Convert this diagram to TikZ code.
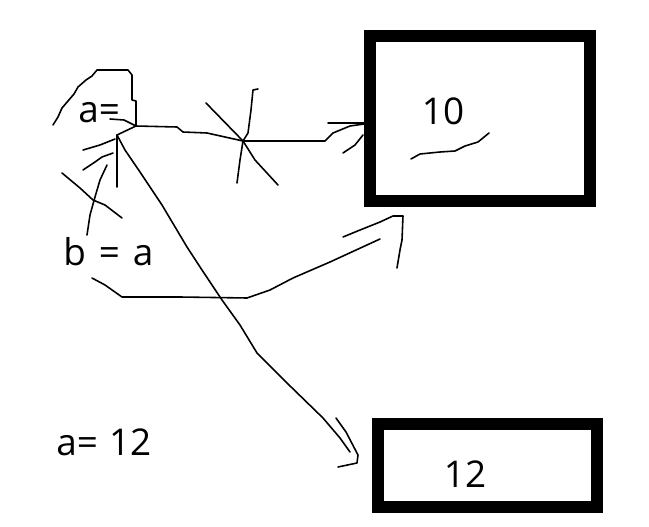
\documentclass[tikz,border=0pt]{standalone}
\usepackage{fontspec}
\setmainfont{Open Sans}
\begin{document}
\begin{tikzpicture}[x=0.02cm,y=-0.02cm,
  txt/.style={inner sep=0pt,anchor=base west,font=\fontsize{21}{23}\selectfont},
  ctxt/.style={inner sep=0pt,anchor=base,font=\fontsize{21}{23}\selectfont},
  memboxA/.style={draw,line width=6.8pt,minimum width=4.4cm,minimum height=3.3cm,inner sep=0pt},
  memboxB/.style={draw,line width=6.8pt,minimum width=4.38cm,minimum height=1.66cm,inner sep=0pt},
  pen/.style={line width=0.9pt,line join=round,line cap=round}]
\useasboundingbox (0,0) rectangle (649,527);
% boxes
\node[memboxA] (boxA) at (480,118.5) {};
\node[memboxB] (boxB) at (487.5,465.5) {};
\node[ctxt] (ten) at (443,125) {10};
\node[ctxt] (twelve) at (465,487) {12};
% texts
\node[txt] (aeq) at (78,123) {a=};
\node[txt] (beqa) at (63,265) {b\hspace{0.35em}=\hspace{0.35em}a};
\node[txt] (aeq12) at (56,455) {a=\hspace{0.3em}12};
% key points
\coordinate (corner) at (136,126);
\coordinate (hub) at (117,135);
\coordinate (cross) at (243,141);
% scribble around a=
\draw[pen] (53,125) -- (58,117) -- (62,108) -- (68,101) -- (74,94) -- (78,87) -- (86,80) -- (92,76) -- (97,70) -- (128,70) -- (132,75) -- (132,100) -- (136,101) -- (corner);
\draw[pen] (110,119) -- (124,120) -- (corner);
% a= to box 10 (crossed out)
\draw[pen] (corner) -- (177,127) -- (183,132) -- (207,133) -- (cross) -- (325,141) -- (333,133) -- (350,126) -- (boxA.west |- 0,124);
\draw[pen] (328,123) -- (boxA.west |- 0,123);
\draw[pen] (343,153) -- (355,145) -- (363,135);
\draw[pen] (206,103) -- (cross) -- (255,160) -- (278,185);
\draw[pen] (258,89) -- (253,90) -- (251,110) -- (248,133) -- (cross) -- (240,160) -- (237,183);
% squiggle under 10
\draw[pen] (411,159) -- (420,154) -- (440,152) -- (455,151) -- (465,146) -- (478,142) -- (489,133);
% from a= downwards
\draw[pen] (corner) -- (hub);
\draw[pen] (hub) -- (117,187);
\draw[pen] (83,150) -- (100,145) -- (115,139);
\draw[pen] (83,170) -- (95,162) -- (102,157) -- (113,153);
\draw[pen] (87,235) -- (90,215) -- (95,197) -- (100,180) -- (107,165);
\draw[pen] (62,173) -- (80,188) -- (93,200) -- (105,205) -- (122,218);
% a= to box 12
\draw[pen] (hub) -- (125,150) -- (140,172) -- (162,205) -- (187,247) -- (202,270) -- (222,300) -- (240,325) -- (257,353) -- (287,383) -- (323,418) -- (340,438) -- (350,452);
\draw[pen] (336,418) -- (346,432) -- (358,455) -- (357,463) -- (338,467);
% b = a to box 10
\draw[pen] (92,278) -- (105,285) -- (122,297) -- (180,297) -- (247,298) -- (270,290) -- (293,278) -- (330,262) -- (380,239);
\draw[pen] (343,237) -- (360,230) -- (380,222) -- (393,216) -- (403,216) -- (402,240) -- (400,250) -- (397,268);
\end{tikzpicture}
\end{document}
